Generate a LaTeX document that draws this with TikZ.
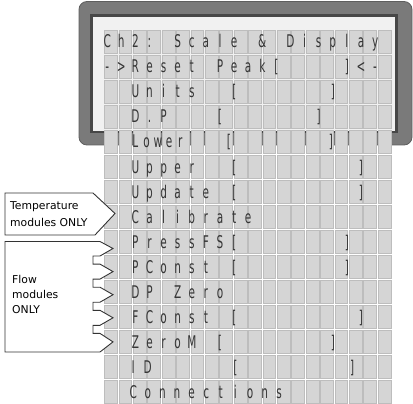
\documentclass[tikz,border=0pt]{standalone}
\usepackage{fontspec}
\newfontfamily\lcdfont[FakeStretch=0.6]{DejaVu Sans}
\newfontfamily\notefont{DejaVu Sans}
\definecolor{framegray}{HTML}{7A7A7A}
\definecolor{frameedge}{HTML}{5E5E5E}
\definecolor{framedark}{HTML}{474747}
\definecolor{panelbg}{HTML}{F1F1F1}
\definecolor{cellfill}{HTML}{D5D5D5}
\definecolor{celledge}{HTML}{BDBDBD}
\definecolor{lcdink}{HTML}{363636}
\definecolor{noteline}{HTML}{333333}
\makeatletter
\newcommand\lcdpitch{14.1pt}
\def\lcd@blank{_}
\newcommand\lcdstr[1]{\@tfor\lcd@c:=#1\do{\makebox[\lcdpitch][c]{\ifx\lcd@c\lcd@blank\else\lcd@c\fi}}}
\makeatother
\tikzset{
  lcd/.style={font=\lcdfont\fontsize{17.5}{18}\selectfont, text=lcdink, inner sep=0pt, anchor=base west},
  cellbox/.style={fill=cellfill, draw=celledge, line width=0.5pt},
  note/.style={fill=white, draw=noteline, line width=0.9pt, line join=miter},
  notetext/.style={font=\notefont\fontsize{10.8}{13}\selectfont, text=black, inner sep=0pt, anchor=base west},
}
\begin{document}
\begin{tikzpicture}[x=1pt,y=-1pt]
\useasboundingbox (0,0) rectangle (413,404);
% LCD frame
\fill[framegray, draw=frameedge, line width=0.8pt, rounded corners=8pt] (79,1.5) rectangle (412,145);
\fill[framedark] (90,14) rectangle (398,133);
\fill[panelbg] (93,17) rectangle (395,131);
% cells
\foreach \r in {0,...,14} {
  \foreach \c in {0,...,19} {
    \path[cellbox] ({104.5+14.4*\c},{30+25*\r}) rectangle +(12.8,23);
  }
}
% LCD text
\node[lcd] (t0) at (99.95,48) {\lcdstr{Ch2:_Scale_\&_Display}};
\node[lcd] (t1) at (99.95,73) {\lcdstr{->Reset_Peak[____]<-}};
\node[lcd] (t2) at (99.95,98) {\lcdstr{__Units__[______]}};
\node[lcd] (t3) at (99.95,123) {\lcdstr{__D.P___[______]}};
\node[lcd] (t4a) at (129.35,148) {\def\lcdpitch{11.3pt}\lcdstr{Lower}};
\node[lcd, anchor=base] (t4b) at (229,148) {[};
\node[lcd, anchor=base] (t4c) at (331,148) {]};
\node[lcd] (t5) at (99.95,173) {\lcdstr{__Upper__[________]}};
\node[lcd] (t6) at (99.95,198) {\lcdstr{__Update_[________]}};
\node[lcd] (t7) at (99.95,223) {\lcdstr{__Calibrate}};
\node[lcd] (t8) at (99.95,248) {\lcdstr{__PressFS[_______]}};
\node[lcd] (t9) at (99.95,273) {\lcdstr{__PConst_[_______]}};
\node[lcd] (t10) at (99.95,298) {\lcdstr{__DP_Zero}};
\node[lcd] (t11) at (99.95,323) {\lcdstr{__FConst_[________]}};
\node[lcd] (t12) at (99.95,348) {\lcdstr{__ZeroM_[_______]}};
\node[lcd] (t13) at (96.5,373) {\def\lcdpitch{14.6pt}\lcdstr{__ID_____[_______]}};
\node[lcd] (t14) at (96.5,398) {\def\lcdpitch{14.6pt}\lcdstr{__Connections}};
% callouts
\draw[note] (5,193) -- (93,193) -- (115,213.5) -- (95,235) -- (5,235) -- cycle;
\node[notetext] (temp1) at (10,209.5) {Temperature};
\node[notetext] (temp2) at (10,226) {modules ONLY};
\draw[note] (5,241.5) -- (100,241.5) -- (113,248.5) -- (100,256) -- (93,256)
  -- (93,264.1) -- (100,264.1) -- (113,271.6) -- (100,279.1) -- (93,279.1)
  -- (93,287.2) -- (100,287.2) -- (113,294.7) -- (100,302.2) -- (93,302.2)
  -- (93,310.3) -- (100,310.3) -- (113,317.8) -- (100,325.3) -- (93,325.3)
  -- (93,333.4) -- (100,333.4) -- (113,341.9) -- (100,352) -- (5,352) -- cycle;
\node[notetext] (flow1) at (12,283) {Flow};
\node[notetext] (flow2) at (12,298) {modules};
\node[notetext] (flow3) at (12,313) {ONLY};
\end{tikzpicture}
\end{document}
